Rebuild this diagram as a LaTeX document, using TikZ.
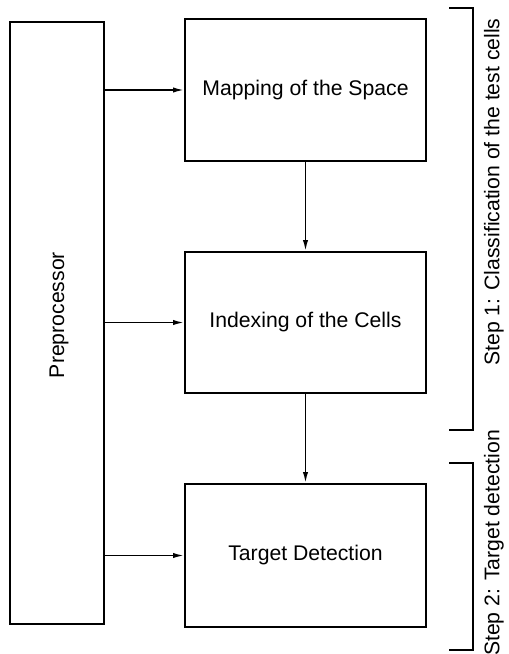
\documentclass[tikz,border=0pt]{standalone}
\usepackage{fontspec}
\setmainfont{Liberation Sans}
\usetikzlibrary{arrows.meta}
\begin{document}
\begin{tikzpicture}[x=0.5pt,y=-0.5pt,
  every node/.style={font=\fontsize{10.6}{12.7}\selectfont},
  stage/.style={draw,line width=0.85pt,inner sep=0pt,minimum width=120.5pt,minimum height=71pt},
  flow/.style={line width=0.8pt,-{Latex[length=5.5pt,width=2.6pt]}},
  brace/.style={line width=1pt},
  steplabel/.style={rotate=90,inner sep=0pt}]
  \useasboundingbox (0,0) rectangle (509,654);

  % preprocessor column
  \node[draw,line width=0.85pt,inner sep=0pt,minimum width=47pt,minimum height=301pt] (pre) at (57,323) {};
  \node[rotate=90,inner sep=0pt] (prelabel) at (59,315) {Preprocessor};

  % processing stages
  \node[stage] (map) at (305.5,90) {Mapping of the Space};
  \node[stage,minimum height=70.5pt] (idx) at (305.5,322.5) {Indexing of the Cells};
  \node[stage,minimum height=71.5pt] (tgt) at (305.5,555.5) {Target Detection};

  % connectors
  \draw[flow] (pre.east |- map.west) -- (map.west);
  \draw[flow] (pre.east |- idx.west) -- (idx.west);
  \draw[flow] (pre.east |- tgt.west) -- (tgt.west);
  \draw[flow] (map.south) -- (idx.north);
  \draw[flow] (idx.south) -- (tgt.north);

  % step brackets
  \coordinate (s1a) at (449,8);
  \coordinate (s1b) at (473,8);
  \coordinate (s1c) at (473,430);
  \coordinate (s1d) at (449,430);
  \draw[brace] (s1a) -- (s1b) -- (s1c) -- (s1d);
  \coordinate (s2a) at (449,463);
  \coordinate (s2b) at (473,463);
  \coordinate (s2c) at (473,650);
  \coordinate (s2d) at (449,650);
  \draw[brace] (s2a) -- (s2b) -- (s2c) -- (s2d);

  \node[steplabel] (step1) at (494,192) {Step 1: Classification of the test cells};
  \node[steplabel] (step2) at (494,543) {Step 2: Target detection};
\end{tikzpicture}
\end{document}
